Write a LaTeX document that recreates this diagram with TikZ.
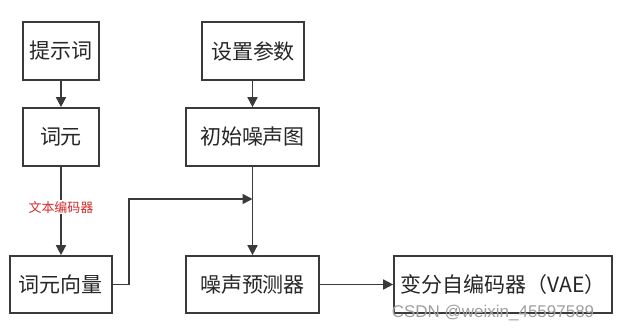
\documentclass[tikz,border=0pt]{standalone}
\usepackage{fontspec}
\setmainfont{Noto Sans CJK SC}
\newfontfamily\wmfont{Liberation Sans}
\usetikzlibrary{arrows.meta}
\definecolor{linec}{HTML}{3A3A3A}
\definecolor{textc}{HTML}{262626}
\definecolor{redc}{HTML}{D42A2A}
\begin{document}
\begin{tikzpicture}[x=1pt,y=-1pt,
  box/.style={draw=linec,line width=1.7pt,fill=white,inner sep=0pt,text=textc,font=\fontsize{21}{24}\selectfont},
  conn/.style={draw=linec,line width=1.7pt},
  arr/.style={conn,-{Triangle[length=10pt,width=10pt]}},
  lbl/.style={fill=white,text=redc,inner sep=1pt,font=\fontsize{13}{15}\selectfont}]
\useasboundingbox (0,0) rectangle (625,332);
\node[box,minimum width=76pt,minimum height=58pt] (tsc) at (61,51) {提示词};
\node[box,minimum width=102pt,minimum height=58pt] (szcs) at (253,51) {设置参数};
\node[box,minimum width=76pt,minimum height=58pt] (cy) at (61,137) {词元};
\node[box,minimum width=133pt,minimum height=58pt] (csz) at (252.5,137) {初始噪声图};
\node[box,minimum width=102pt,minimum height=57pt] (cyxl) at (61,284.5) {词元向量};
\node[box,minimum width=133pt,minimum height=57pt] (zyc) at (252.5,284.5) {噪声预测器};
\node[box,minimum width=218pt,minimum height=57pt] (vae) at (503,284.5) {变分自编码器（VAE）};
\coordinate (j) at (252.5,199);
\draw[arr] (tsc) -- (cy);
\draw[arr] (szcs.south -| csz) -- (csz);
\draw[arr] (cy) -- node[lbl,pos=0.46] (wbbm) {文本编码器} (cyxl);
\draw[arr] (csz) -- (zyc);
\draw[arr] (cyxl.east) -- ++(16,0) |- (j);
\draw[arr] (zyc) -- (vae);
\node[text=gray!75,font=\wmfont\fontsize{17}{18}\selectfont,inner sep=0pt] (wm) at (493,313) {CSDN @weixin\_45597589};
\end{tikzpicture}
\end{document}
